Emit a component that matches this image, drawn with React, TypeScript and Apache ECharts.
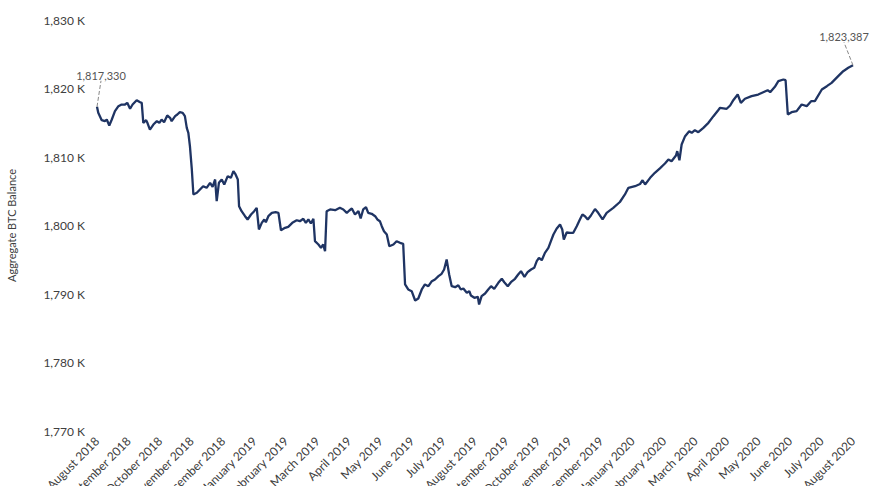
import React, { useEffect, useRef } from "react";
import * as echarts from "echarts";

// x = months since August 2018, y = aggregate BTC balance in thousands
const monthLabels = [
  "August 2018", "September 2018", "October 2018", "November 2018", "December 2018",
  "January 2019", "February 2019", "March 2019", "April 2019", "May 2019", "June 2019",
  "July 2019", "August 2019", "September 2019", "October 2019", "November 2019",
  "December 2019", "January 2020", "February 2020", "March 2020", "April 2020",
  "May 2020", "June 2020", "July 2020", "August 2020",
];

const yTicks = [1770, 1780, 1790, 1800, 1810, 1820, 1830];

const balance2018 = [
  [0, 1817.33], [0.04, 1816.45], [0.15, 1815.37], [0.25, 1815.23], [0.31, 1815.47], [0.39, 1814.6],
  [0.47, 1815.47], [0.57, 1816.69], [0.68, 1817.42], [0.78, 1817.66], [0.89, 1817.66], [0.96, 1817.91],
  [1.05, 1817.04], [1.13, 1817.66], [1.26, 1818.29], [1.37, 1818.0], [1.42, 1817.91], [1.47, 1814.99],
  [1.56, 1815.37], [1.6, 1814.99], [1.68, 1814.01], [1.79, 1814.74], [1.9, 1815.23], [1.98, 1814.99],
  [2.05, 1815.47], [2.13, 1815.08], [2.23, 1816.06], [2.32, 1815.72], [2.37, 1815.23], [2.48, 1815.96],
  [2.55, 1816.2], [2.63, 1816.54], [2.72, 1816.45], [2.79, 1815.96], [2.85, 1814.26], [2.9, 1813.53],
  [2.95, 1811.58], [3.01, 1808.18], [3.06, 1804.53], [3.17, 1804.77], [3.27, 1805.26], [3.37, 1805.74],
  [3.48, 1805.5], [3.59, 1806.23], [3.67, 1805.65], [3.75, 1806.72], [3.8, 1803.55], [3.87, 1806.23],
  [3.96, 1806.72], [4.04, 1805.99], [4.15, 1807.2], [4.25, 1806.96], [4.33, 1807.93], [4.4, 1807.45],
  [4.47, 1806.72], [4.51, 1802.82], [4.59, 1802.09], [4.7, 1801.36], [4.78, 1800.88], [4.89, 1801.61],
  [4.99, 1802.09],
];

const balanceH1_2019 = [
  [5.07, 1802.58], [5.14, 1799.42], [5.23, 1800.39], [5.31, 1800.88], [5.36, 1800.48], [5.44, 1801.36],
  [5.55, 1801.85], [5.67, 1801.94], [5.76, 1801.85], [5.84, 1799.31], [5.97, 1799.66], [6.07, 1799.81],
  [6.2, 1800.39], [6.34, 1800.77], [6.44, 1800.63], [6.55, 1800.98], [6.63, 1800.39], [6.71, 1800.88],
  [6.79, 1800.29], [6.87, 1800.98], [6.92, 1797.71], [7.03, 1797.23], [7.11, 1796.74], [7.18, 1797.23],
  [7.24, 1796.25], [7.29, 1802.09], [7.4, 1802.34], [7.56, 1802.23], [7.71, 1802.58], [7.82, 1802.34],
  [7.93, 1801.85], [8.01, 1802.19], [8.09, 1802.48], [8.19, 1801.61], [8.3, 1802.09], [8.37, 1801.02],
  [8.45, 1802.34], [8.54, 1802.67], [8.61, 1801.85], [8.72, 1801.71], [8.83, 1801.36], [8.9, 1800.88],
  [8.98, 1800.63], [9.04, 1799.9], [9.11, 1799.17], [9.2, 1798.69], [9.28, 1796.98], [9.41, 1797.23],
  [9.51, 1797.71], [9.62, 1797.47], [9.72, 1797.33], [9.78, 1791.39], [9.88, 1790.66], [9.99, 1790.41],
  [10.1, 1789.05], [10.2, 1789.34], [10.31, 1790.66], [10.41, 1791.39], [10.52, 1791.14], [10.63, 1791.87],
  [10.73, 1792.12], [10.84, 1792.6], [10.94, 1792.95],
];

const balanceH2_2019 = [
  [11.02, 1793.58], [11.1, 1795.04], [11.18, 1792.85], [11.26, 1791.14], [11.37, 1790.99], [11.47, 1791.28],
  [11.55, 1790.66], [11.63, 1790.8], [11.74, 1790.18], [11.82, 1790.41], [11.87, 1789.78], [11.98, 1789.45],
  [12.09, 1789.59], [12.13, 1788.47], [12.21, 1789.68], [12.32, 1790.07], [12.42, 1790.66], [12.51, 1791.14],
  [12.61, 1790.76], [12.74, 1791.63], [12.85, 1792.22], [12.93, 1791.72], [13.04, 1791.14], [13.14, 1791.72],
  [13.27, 1792.22], [13.37, 1792.85], [13.46, 1793.33], [13.57, 1792.51], [13.67, 1793.18], [13.78, 1793.58],
  [13.88, 1793.82], [13.96, 1794.79], [14.03, 1795.28], [14.12, 1794.93], [14.22, 1796.01], [14.33, 1796.74],
  [14.41, 1797.71], [14.49, 1798.69], [14.59, 1799.52], [14.7, 1800.15], [14.77, 1799.42], [14.82, 1797.96],
  [14.91, 1798.98], [15.02, 1798.93], [15.12, 1798.93], [15.23, 1799.9], [15.33, 1800.88], [15.41, 1801.61],
  [15.49, 1801.36], [15.58, 1800.88], [15.68, 1801.46], [15.81, 1802.41], [15.91, 1801.85], [16.05, 1800.88],
  [16.18, 1801.85], [16.39, 1802.58], [16.6, 1803.43], [16.76, 1804.53], [16.87, 1805.5],
];

const balance2020 = [
  [17.08, 1805.74], [17.24, 1806.06], [17.32, 1806.61], [17.4, 1805.99], [17.56, 1806.96], [17.71, 1807.69],
  [17.87, 1808.35], [18.03, 1809.05], [18.14, 1809.64], [18.24, 1809.39], [18.38, 1810.22], [18.42, 1810.85],
  [18.49, 1809.53], [18.56, 1811.82], [18.67, 1813.04], [18.8, 1813.77], [18.88, 1813.53], [18.98, 1813.91],
  [19.09, 1813.62], [19.25, 1814.26], [19.41, 1814.99], [19.57, 1815.96], [19.72, 1816.83], [19.78, 1817.18],
  [19.99, 1817.04], [20.1, 1817.52], [20.2, 1818.29], [20.34, 1819.12], [20.44, 1817.91], [20.57, 1818.5],
  [20.78, 1818.88], [20.99, 1819.12], [21.15, 1819.46], [21.29, 1819.75], [21.37, 1819.46], [21.52, 1820.25],
  [21.63, 1821.07], [21.79, 1821.31], [21.86, 1821.21], [21.93, 1816.2], [22.05, 1816.54], [22.21, 1816.69],
  [22.37, 1817.66], [22.53, 1817.42], [22.67, 1818.15], [22.79, 1818.15], [23.01, 1819.85], [23.17, 1820.34],
  [23.32, 1820.83], [23.53, 1821.8], [23.69, 1822.53], [23.85, 1823.02], [24.0, 1823.387],
];

const FONT = "Lato, 'Open Sans', sans-serif";
const TEXT = "#404040";

function fmtK(v: number) {
  return Math.round(v).toLocaleString("en-US") + " K";
}

export default function App() {
  const ref = useRef<HTMLDivElement>(null);

  useEffect(() => {
    document.body.style.margin = "0";
    if (!ref.current) return;
    const chart = echarts.init(ref.current, null, { renderer: "svg" });
    const all = [...balance2018, ...balanceH1_2019, ...balanceH2_2019, ...balance2020];
    const lastIdx = all.length - 1;
    const data = all.map((p, i) => {
      if (i === 0 || i === lastIdx) {
        return {
          value: p,
          label: {
            show: true,
            position: "top",
            distance: 5,
            formatter: Math.round(p[1] * 1000).toLocaleString("en-US"),
            color: "#555",
            fontSize: 11,
            fontFamily: FONT,
          },
        };
      }
      return { value: p };
    });

    chart.setOption({
      animation: false,
      backgroundColor: "#ffffff",
      grid: {
        left: 97, right: 24, top: 20, bottom: 55,
        containLabel: false,
        outerBoundsMode: "none",
      },
      xAxis: {
        type: "value",
        min: 0,
        max: monthLabels.length - 1,
        interval: 1,
        axisLine: { show: false },
        axisTick: { show: false },
        splitLine: { show: false },
        axisLabel: {
          rotate: 45,
          margin: 8,
          color: TEXT,
          fontSize: 12,
          fontFamily: FONT,
          formatter: (v: number) => monthLabels[Math.round(v)] ?? "",
        },
      },
      yAxis: {
        type: "value",
        min: yTicks[0],
        max: yTicks[yTicks.length - 1],
        interval: yTicks[1] - yTicks[0],
        name: "Aggregate BTC Balance",
        nameLocation: "middle",
        nameGap: 80,
        nameTextStyle: { color: TEXT, fontSize: 11, fontFamily: FONT },
        axisLine: { show: false },
        axisTick: { show: false },
        splitLine: { show: false },
        axisLabel: {
          margin: 12,
          color: TEXT,
          fontSize: 12,
          fontFamily: FONT,
          formatter: (v: number) => fmtK(v),
        },
      },
      series: [
        {
          type: "line",
          data,
          symbol: "circle",
          symbolSize: 0.01,
          showSymbol: true,
          showAllSymbol: true,
          itemStyle: { color: "#1f3463" },
          lineStyle: { color: "#1f3463", width: 2.3 },
          labelLayout: (params: any) =>
            params.dataIndex === 0 ? { dx: 4, dy: -21 } : { dx: -9, dy: -18 },
          labelLine: {
            show: true,
            lineStyle: { color: "#888", width: 1, type: "dashed" },
          },
        },
      ],
    });
    return () => chart.dispose();
  }, []);

  return <div ref={ref} style={{ width: 877, height: 486 }} />;
}
